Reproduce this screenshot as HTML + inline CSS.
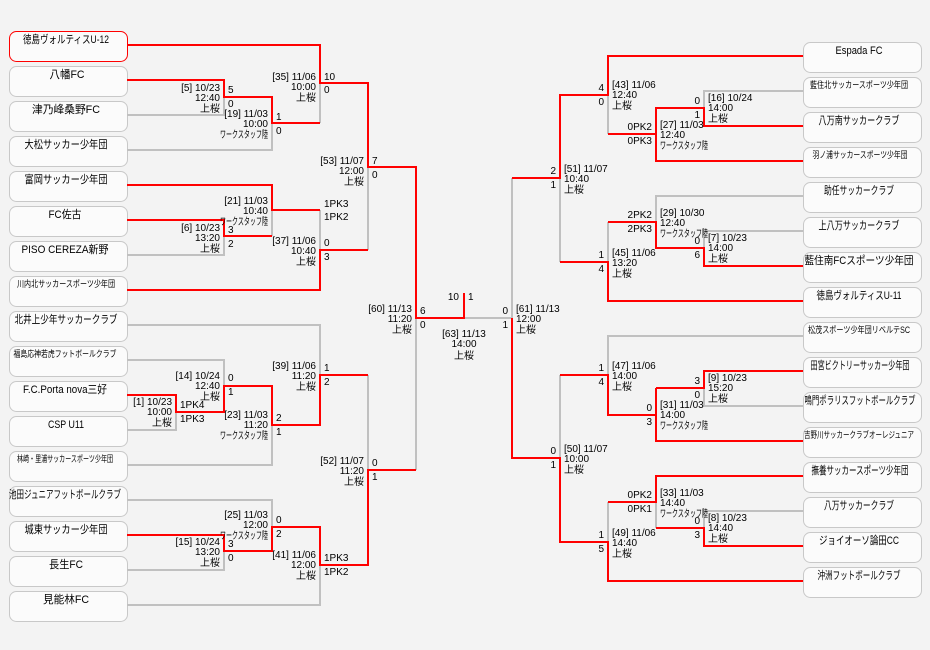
<!DOCTYPE html>
<html><head><meta charset="utf-8"><style>
html,body{margin:0;padding:0;background:#f3f3f3;}
svg{display:block;}
text{font-family:"Liberation Sans","Noto Sans CJK JP",sans-serif;font-size:10px;fill:#000;}
.b{fill:#fbfbfb;stroke:#c8c8c8;stroke-width:1;}
.n{text-anchor:middle;font-size:11px;}
.s{font-size:9px;}
.g{fill:none;stroke:#c0c0c0;stroke-width:2;}
.r{fill:none;stroke:#ff0000;stroke-width:2;}
.e{text-anchor:end;}
</style></head><body>
<svg width="930" height="650" xmlns="http://www.w3.org/2000/svg">
<rect width="930" height="650" fill="#f3f3f3"/>
<g>
<rect class="b" x="9.5" y="31.5" width="118" height="30" rx="7" style="stroke:#ff0000"/>
<rect class="b" x="9.5" y="66.5" width="118" height="30" rx="7"/>
<rect class="b" x="9.5" y="101.5" width="118" height="30" rx="7"/>
<rect class="b" x="9.5" y="136.5" width="118" height="30" rx="7"/>
<rect class="b" x="9.5" y="171.5" width="118" height="30" rx="7"/>
<rect class="b" x="9.5" y="206.5" width="118" height="30" rx="7"/>
<rect class="b" x="9.5" y="241.5" width="118" height="30" rx="7"/>
<rect class="b" x="9.5" y="276.5" width="118" height="30" rx="7"/>
<rect class="b" x="9.5" y="311.5" width="118" height="30" rx="7"/>
<rect class="b" x="9.5" y="346.5" width="118" height="30" rx="7"/>
<rect class="b" x="9.5" y="381.5" width="118" height="30" rx="7"/>
<rect class="b" x="9.5" y="416.5" width="118" height="30" rx="7"/>
<rect class="b" x="9.5" y="451.5" width="118" height="30" rx="7"/>
<rect class="b" x="9.5" y="486.5" width="118" height="30" rx="7"/>
<rect class="b" x="9.5" y="521.5" width="118" height="30" rx="7"/>
<rect class="b" x="9.5" y="556.5" width="118" height="30" rx="7"/>
<rect class="b" x="9.5" y="591.5" width="118" height="30" rx="7"/>
</g>
<g>
<text class="n" x="66" y="43" textLength="86" lengthAdjust="spacingAndGlyphs">徳島ヴォルティスU-12</text>
<text class="n" x="67" y="78" textLength="35" lengthAdjust="spacingAndGlyphs">八幡FC</text>
<text class="n" x="66" y="113" textLength="68" lengthAdjust="spacingAndGlyphs">津乃峰桑野FC</text>
<text class="n" x="66" y="148" textLength="83" lengthAdjust="spacingAndGlyphs">大松サッカー少年団</text>
<text class="n" x="66" y="183" textLength="83" lengthAdjust="spacingAndGlyphs">富岡サッカー少年団</text>
<text class="n" x="65" y="218" textLength="33" lengthAdjust="spacingAndGlyphs">FC佐古</text>
<text class="n" x="65" y="253" textLength="87" lengthAdjust="spacingAndGlyphs">PISO CEREZA新野</text>
<text class="n s" x="66" y="287" textLength="98" lengthAdjust="spacingAndGlyphs">川内北サッカースポーツ少年団</text>
<text class="n" x="66" y="323" textLength="103" lengthAdjust="spacingAndGlyphs">北井上少年サッカークラブ</text>
<text class="n s" x="65" y="357" textLength="103" lengthAdjust="spacingAndGlyphs">福島応神若虎フットボールクラブ</text>
<text class="n" x="65" y="393" textLength="84" lengthAdjust="spacingAndGlyphs">F.C.Porta nova三好</text>
<text class="n" x="66" y="428" textLength="36" lengthAdjust="spacingAndGlyphs">CSP U11</text>
<text class="n s" x="65" y="462" textLength="96" lengthAdjust="spacingAndGlyphs">林崎・里浦サッカースポーツ少年団</text>
<text class="n" x="65" y="498" textLength="112" lengthAdjust="spacingAndGlyphs">池田ジュニアフットボールクラブ</text>
<text class="n" x="66" y="533" textLength="83" lengthAdjust="spacingAndGlyphs">城東サッカー少年団</text>
<text class="n" x="66" y="568" textLength="34" lengthAdjust="spacingAndGlyphs">長生FC</text>
<text class="n" x="66" y="603" textLength="46" lengthAdjust="spacingAndGlyphs">見能林FC</text>
</g>
<g>
<rect class="b" x="803.5" y="42.5" width="118" height="30" rx="7"/>
<rect class="b" x="803.5" y="77.5" width="118" height="30" rx="7"/>
<rect class="b" x="803.5" y="112.5" width="118" height="30" rx="7"/>
<rect class="b" x="803.5" y="147.5" width="118" height="30" rx="7"/>
<rect class="b" x="803.5" y="182.5" width="118" height="30" rx="7"/>
<rect class="b" x="803.5" y="217.5" width="118" height="30" rx="7"/>
<rect class="b" x="803.5" y="252.5" width="118" height="30" rx="7"/>
<rect class="b" x="803.5" y="287.5" width="118" height="30" rx="7"/>
<rect class="b" x="803.5" y="322.5" width="118" height="30" rx="7"/>
<rect class="b" x="803.5" y="357.5" width="118" height="30" rx="7"/>
<rect class="b" x="803.5" y="392.5" width="118" height="30" rx="7"/>
<rect class="b" x="803.5" y="427.5" width="118" height="30" rx="7"/>
<rect class="b" x="803.5" y="462.5" width="118" height="30" rx="7"/>
<rect class="b" x="803.5" y="497.5" width="118" height="30" rx="7"/>
<rect class="b" x="803.5" y="532.5" width="118" height="30" rx="7"/>
<rect class="b" x="803.5" y="567.5" width="118" height="30" rx="7"/>
</g>
<g>
<text class="n" x="859" y="54" textLength="47" lengthAdjust="spacingAndGlyphs">Espada FC</text>
<text class="n s" x="859" y="88" textLength="98" lengthAdjust="spacingAndGlyphs">藍住北サッカースポーツ少年団</text>
<text class="n" x="859" y="124" textLength="81" lengthAdjust="spacingAndGlyphs">八万南サッカークラブ</text>
<text class="n s" x="860" y="158" textLength="95" lengthAdjust="spacingAndGlyphs">羽ノ浦サッカースポーツ少年団</text>
<text class="n" x="859" y="194" textLength="70" lengthAdjust="spacingAndGlyphs">助任サッカークラブ</text>
<text class="n" x="859" y="229" textLength="81" lengthAdjust="spacingAndGlyphs">上八万サッカークラブ</text>
<text class="n" x="859" y="264" textLength="109" lengthAdjust="spacingAndGlyphs">藍住南FCスポーツ少年団</text>
<text class="n" x="859" y="299" textLength="85" lengthAdjust="spacingAndGlyphs">徳島ヴォルティスU-11</text>
<text class="n s" x="859" y="333" textLength="102" lengthAdjust="spacingAndGlyphs">松茂スポーツ少年団リベルテSC</text>
<text class="n" x="860" y="369" textLength="99" lengthAdjust="spacingAndGlyphs">田宮ビクトリーサッカー少年団</text>
<text class="n" x="860" y="404" textLength="111" lengthAdjust="spacingAndGlyphs">鳴門ポラリスフットボールクラブ</text>
<text class="n s" x="859" y="438" textLength="110" lengthAdjust="spacingAndGlyphs">吉野川サッカークラブオーレジュニア</text>
<text class="n" x="860" y="474" textLength="97" lengthAdjust="spacingAndGlyphs">撫養サッカースポーツ少年団</text>
<text class="n" x="859" y="509" textLength="70" lengthAdjust="spacingAndGlyphs">八万サッカークラブ</text>
<text class="n" x="859" y="544" textLength="80" lengthAdjust="spacingAndGlyphs">ジョイオーソ論田CC</text>
<text class="n" x="859" y="579" textLength="83" lengthAdjust="spacingAndGlyphs">沖洲フットボールクラブ</text>
</g>
<path class="g" d="M127 115H224V97 M127 150H272V123 M320 83V123 M368 167V250 M272 210V236 M127 255H224V236 M320 210V250 M416 318V470 M127 325H320V375 M127 360H224V386 M127 430H176V412 M127 465H272V425 M127 500H272V527 M127 570H224V551 M127 605H320V565 M368 375V470 M464 318H512 M512 178V318
M803 91H704V108 M608 95V134 M803 196H656V222 M803 231H704V248 M608 222V262 M560 178V262 M803 336H608V375 M803 406H704V388 M560 375V458 M803 511H704V528 M656 502V528 M608 502V542"/>
<path class="r" d="M127 45H320V83H368V167H416V318H464V293 M127 80H224V97H272V123H320 M127 185H272V210H320 M127 220H224V236H272 M127 290H320V250H368 M127 395H176V412H224V386H272V425H320V375H368 M127 535H224V551H272V527H320V565H368V470H416
M512 318V458H560V542H608V581H803
M803 56H608V95H560V178H512 M803 126H704V108H656V161H803 M608 134H656 M803 266H704V248H656V222H608 M560 262H608V301H803 M560 375H608V415H656 M656 388V441H803 M656 388H704V371H803 M803 476H656V502H608 M656 528H704V546H803"/>
<g class="e">
<text x="220" y="91">[5] 10/23</text><text x="220" y="101">12:40</text><text x="220" y="112">上桜</text>
<text x="268" y="117">[19] 11/03</text><text x="268" y="127">10:00</text><text x="268" y="138" textLength="48" lengthAdjust="spacingAndGlyphs">ワークスタッフ陸</text>
<text x="316" y="80">[35] 11/06</text><text x="316" y="90">10:00</text><text x="316" y="101">上桜</text>
<text x="364" y="164">[53] 11/07</text><text x="364" y="174">12:00</text><text x="364" y="185">上桜</text>
<text x="268" y="204">[21] 11/03</text><text x="268" y="214">10:40</text><text x="268" y="225" textLength="48" lengthAdjust="spacingAndGlyphs">ワークスタッフ陸</text>
<text x="220" y="231">[6] 10/23</text><text x="220" y="241">13:20</text><text x="220" y="252">上桜</text>
<text x="316" y="244">[37] 11/06</text><text x="316" y="254">10:40</text><text x="316" y="265">上桜</text>
<text x="412" y="312">[60] 11/13</text><text x="412" y="322">11:20</text><text x="412" y="333">上桜</text>
<text x="316" y="369">[39] 11/06</text><text x="316" y="379">11:20</text><text x="316" y="390">上桜</text>
<text x="220" y="379">[14] 10/24</text><text x="220" y="389">12:40</text><text x="220" y="400">上桜</text>
<text x="172" y="405">[1] 10/23</text><text x="172" y="415">10:00</text><text x="172" y="426">上桜</text>
<text x="268" y="418">[23] 11/03</text><text x="268" y="428">11:20</text><text x="268" y="439" textLength="48" lengthAdjust="spacingAndGlyphs">ワークスタッフ陸</text>
<text x="364" y="464">[52] 11/07</text><text x="364" y="474">11:20</text><text x="364" y="485">上桜</text>
<text x="268" y="518">[25] 11/03</text><text x="268" y="528">12:00</text><text x="268" y="539" textLength="48" lengthAdjust="spacingAndGlyphs">ワークスタッフ陸</text>
<text x="220" y="545">[15] 10/24</text><text x="220" y="555">13:20</text><text x="220" y="566">上桜</text>
<text x="316" y="558">[41] 11/06</text><text x="316" y="568">12:00</text><text x="316" y="579">上桜</text>
</g>
<g>
<text x="228" y="93">5</text><text x="228" y="107">0</text>
<text x="276" y="120">1</text><text x="276" y="134">0</text>
<text x="324" y="80">10</text><text x="324" y="93">0</text>
<text x="372" y="164">7</text><text x="372" y="178">0</text>
<text x="324" y="207">1PK3</text><text x="324" y="220">1PK2</text>
<text x="228" y="233">3</text><text x="228" y="247">2</text>
<text x="324" y="246">0</text><text x="324" y="260">3</text>
<text x="420" y="314">6</text><text x="420" y="328">0</text>
<text x="324" y="371">1</text><text x="324" y="385">2</text>
<text x="228" y="381">0</text><text x="228" y="395">1</text>
<text x="180" y="408">1PK4</text><text x="180" y="422">1PK3</text>
<text x="276" y="421">2</text><text x="276" y="435">1</text>
<text x="372" y="466">0</text><text x="372" y="480">1</text>
<text x="276" y="523">0</text><text x="276" y="537">2</text>
<text x="228" y="547">3</text><text x="228" y="561">0</text>
<text x="324" y="561">1PK3</text><text x="324" y="575">1PK2</text>
</g>
<text class="e" x="459" y="300">10</text><text x="468" y="300">1</text>
<text text-anchor="middle" x="464" y="337">[63] 11/13</text><text text-anchor="middle" x="464" y="347">14:00</text><text text-anchor="middle" x="464" y="359">上桜</text>
<g>
<text x="612" y="88">[43] 11/06</text><text x="612" y="98">12:40</text><text x="612" y="109">上桜</text>
<text x="708" y="101">[16] 10/24</text><text x="708" y="111">14:00</text><text x="708" y="122">上桜</text>
<text x="660" y="128">[27] 11/03</text><text x="660" y="138">12:40</text><text x="660" y="149" textLength="48" lengthAdjust="spacingAndGlyphs">ワークスタッフ陸</text>
<text x="564" y="172">[51] 11/07</text><text x="564" y="182">10:40</text><text x="564" y="193">上桜</text>
<text x="660" y="216">[29] 10/30</text><text x="660" y="226">12:40</text><text x="660" y="237" textLength="48" lengthAdjust="spacingAndGlyphs">ワークスタッフ陸</text>
<text x="708" y="241">[7] 10/23</text><text x="708" y="251">14:00</text><text x="708" y="262">上桜</text>
<text x="612" y="256">[45] 11/06</text><text x="612" y="266">13:20</text><text x="612" y="277">上桜</text>
<text x="516" y="312">[61] 11/13</text><text x="516" y="322">12:00</text><text x="516" y="333">上桜</text>
<text x="612" y="369">[47] 11/06</text><text x="612" y="379">14:00</text><text x="612" y="390">上桜</text>
<text x="708" y="381">[9] 10/23</text><text x="708" y="391">15:20</text><text x="708" y="402">上桜</text>
<text x="660" y="408">[31] 11/03</text><text x="660" y="418">14:00</text><text x="660" y="429" textLength="48" lengthAdjust="spacingAndGlyphs">ワークスタッフ陸</text>
<text x="564" y="452">[50] 11/07</text><text x="564" y="462">10:00</text><text x="564" y="473">上桜</text>
<text x="660" y="496">[33] 11/03</text><text x="660" y="506">14:40</text><text x="660" y="517" textLength="48" lengthAdjust="spacingAndGlyphs">ワークスタッフ陸</text>
<text x="708" y="521">[8] 10/23</text><text x="708" y="531">14:40</text><text x="708" y="542">上桜</text>
<text x="612" y="536">[49] 11/06</text><text x="612" y="546">14:40</text><text x="612" y="557">上桜</text>
</g>
<g class="e">
<text x="604" y="91">4</text><text x="604" y="105">0</text>
<text x="700" y="104">0</text><text x="700" y="118">1</text>
<text x="652" y="130">0PK2</text><text x="652" y="144">0PK3</text>
<text x="556" y="174">2</text><text x="556" y="188">1</text>
<text x="652" y="218">2PK2</text><text x="652" y="232">2PK3</text>
<text x="700" y="244">0</text><text x="700" y="258">6</text>
<text x="604" y="258">1</text><text x="604" y="272">4</text>
<text x="508" y="314">0</text><text x="508" y="328">1</text>
<text x="604" y="371">1</text><text x="604" y="385">4</text>
<text x="700" y="384">3</text><text x="700" y="398">0</text>
<text x="652" y="411">0</text><text x="652" y="425">3</text>
<text x="556" y="454">0</text><text x="556" y="468">1</text>
<text x="652" y="498">0PK2</text><text x="652" y="512">0PK1</text>
<text x="700" y="524">0</text><text x="700" y="538">3</text>
<text x="604" y="538">1</text><text x="604" y="552">5</text>
</g>
</svg>
</body></html>
